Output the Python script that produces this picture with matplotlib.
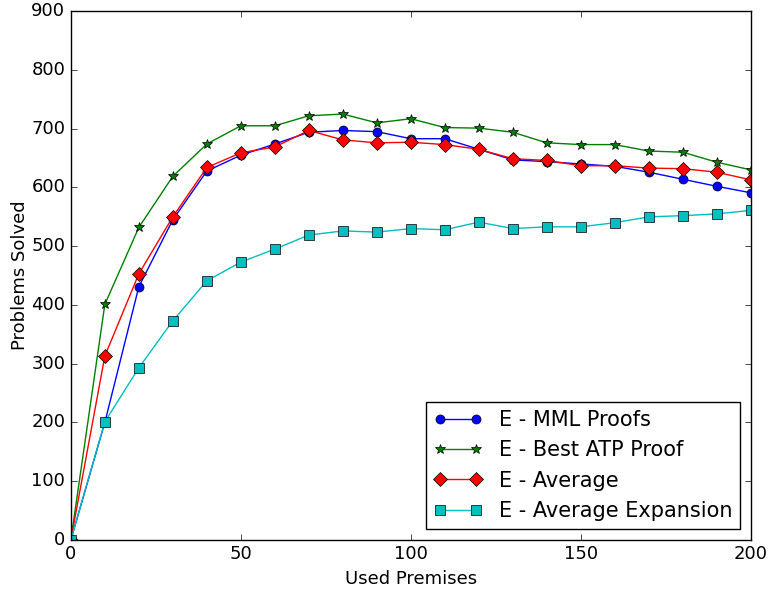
import matplotlib
matplotlib.use('Agg')
import matplotlib.pyplot as plt

plt.style.use('classic')

premises = [0, 10, 20, 30, 40, 50, 60, 70, 80, 90, 100, 110, 120, 130, 140, 150, 160, 170, 180, 190, 200]

mml = [0, 200, 431, 545, 628, 655, 674, 694, 697, 695, 683, 683, 665, 647, 644, 640, 636, 626, 614, 602, 591]
best = [0, 401, 532, 619, 674, 705, 705, 722, 725, 710, 717, 702, 701, 694, 676, 673, 673, 662, 660, 643, 630]
avg = [0, 313, 453, 550, 634, 659, 669, 697, 681, 676, 677, 673, 665, 649, 646, 637, 637, 633, 632, 626, 613]
avg_exp = [0, 201, 293, 373, 441, 473, 495, 519, 526, 524, 530, 528, 541, 530, 533, 533, 540, 550, 552, 555, 561]

fig = plt.figure(figsize=(7.7, 5.92), dpi=100, facecolor='white')
ax = fig.add_axes([0.092, 0.088, 0.883, 0.893])

ax.plot(premises, mml, 'b-o', markersize=6.5, label='E - MML Proofs')
ax.plot(premises, best, 'g-*', markersize=7, label='E - Best ATP Proof')
ax.plot(premises, avg, 'r-D', markersize=7, label='E - Average')
ax.plot(premises, avg_exp, 'c-s', markersize=6.5, label='E - Average Expansion')

ax.set_xlim(0, 200)
ax.set_ylim(0, 900)
ax.tick_params(labelsize=13)
ax.set_xlabel('Used Premises', fontsize=13)
ax.set_ylabel('Problems Solved', fontsize=13, labelpad=2)
ax.legend(loc='lower right', numpoints=2, fontsize=15, handlelength=2.3)

fig.savefig('out.png', dpi=100, facecolor='white')
